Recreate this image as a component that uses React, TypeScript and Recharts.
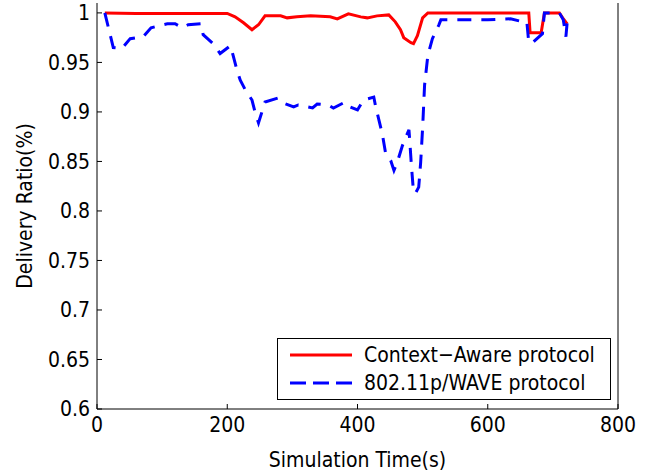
import { LineChart, Line, XAxis, YAxis, Legend } from "recharts";

// Context-Aware protocol (red, solid)
const awareTime = [12, 60, 120, 160, 200, 212, 225, 238, 248, 258, 282, 292, 307, 328, 358, 369, 386, 405, 415, 430, 448, 458, 466, 471, 482, 486, 492, 500, 508, 663, 665, 682, 687, 710, 715, 722];
const awareRatio = [1.0, 0.9995, 0.9995, 0.9995, 0.9995, 0.996, 0.99, 0.983, 0.988, 0.997, 0.997, 0.995, 0.996, 0.997, 0.996, 0.994, 0.999, 0.996, 0.995, 0.997, 0.998, 0.991, 0.983, 0.975, 0.97, 0.969, 0.977, 0.995, 1.0, 1.0, 0.98, 0.98, 1.0, 1.0, 0.995, 0.989];

// 802.11p/WAVE protocol (blue, dashed)
const waveTime = [12, 25, 38, 51, 71, 83, 108, 120, 131, 140, 160, 163, 178, 189, 205, 209, 215, 220, 228, 238, 243, 248, 258, 278, 286, 302, 309, 331, 338, 355, 363, 381, 389, 400, 409, 425, 428, 438, 443, 451, 456, 461, 469, 474, 479, 480, 483, 486, 489, 494, 497, 500, 503, 508, 515, 525, 528, 600, 635, 654, 660, 663, 669, 684, 687, 710, 716, 720, 723];
const waveRatio = [1.0, 0.965, 0.964, 0.974, 0.976, 0.985, 0.989, 0.989, 0.985, 0.988, 0.989, 0.978, 0.969, 0.959, 0.967, 0.957, 0.942, 0.932, 0.922, 0.912, 0.899, 0.889, 0.91, 0.914, 0.909, 0.905, 0.907, 0.904, 0.908, 0.907, 0.904, 0.91, 0.905, 0.902, 0.912, 0.915, 0.905, 0.878, 0.859, 0.851, 0.841, 0.849, 0.866, 0.874, 0.882, 0.873, 0.844, 0.819, 0.818, 0.824, 0.849, 0.884, 0.927, 0.957, 0.974, 0.988, 0.993, 0.993, 0.994, 0.991, 0.991, 0.97, 0.97, 0.979, 1.0, 1.0, 0.993, 0.976, 0.998];

const xTicks = [0, 200, 400, 600, 800];
const yTicks = [0.6, 0.65, 0.7, 0.75, 0.8, 0.85, 0.9, 0.95, 1];

const seriesNames = ["Context\u2212Aware protocol", "802.11p/WAVE protocol"];

const awareData = awareTime.map((t, i) => ({ t, v: awareRatio[i] }));
const waveData = waveTime.map((t, i) => ({ t, v: waveRatio[i] }));

const font = "'DejaVu Sans Condensed', 'DejaVu Sans', sans-serif";
const tickStyle = { fontSize: 21, fill: "#000", fontFamily: font };

function LegendBox() {
  return (
    <div
      style={{
        border: "1px solid #000",
        background: "#fff",
        width: 332,
        height: 60,
        fontFamily: font,
        fontSize: 21,
        color: "#000",
        boxSizing: "content-box",
      }}
    >
      {seriesNames.map((name, i) => (
        <div key={name} style={{ display: "flex", alignItems: "center", height: 28, marginTop: i === 0 ? 2 : 0 }}>
          <svg width={86} height={10} style={{ flex: "none" }}>
            <line
              x1={12}
              x2={74}
              y1={5}
              y2={5}
              stroke={i === 0 ? "#ff0000" : "#0000ff"}
              strokeWidth={3}
              strokeDasharray={i === 0 ? undefined : "16 7"}
            />
          </svg>
          <span style={{ whiteSpace: "nowrap" }}>{name}</span>
        </div>
      ))}
    </div>
  );
}

export default function App() {
  return (
    <div style={{ position: "absolute", left: 0, top: 0, background: "#fff" }}>
      <LineChart width={650} height={471} margin={{ top: 3, right: 0, bottom: 0, left: 0 }}>
        <XAxis
          dataKey="t"
          type="number"
          domain={[0, 800]}
          ticks={xTicks}
          allowDataOverflow
          height={62}
          tickSize={-5}
          tickMargin={13}
          tick={tickStyle}
          stroke="#000"
          tickLine={{ stroke: "#000" }}
          label={{
            value: "Simulation Time(s)",
            position: "insideBottom",
            offset: 4,
            style: { fontSize: 21, fill: "#000", fontFamily: font },
          }}
        />
        <XAxis
          xAxisId="top"
          orientation="top"
          type="number"
          domain={[0, 800]}
          ticks={xTicks}
          height={0}
          tickSize={-5}
          tick={false}
          stroke="#000"
          tickLine={{ stroke: "#000" }}
        />
        <YAxis
          type="number"
          domain={[0.6, 1.01]}
          ticks={yTicks}
          allowDataOverflow
          width={97}
          tickSize={-5}
          tickMargin={12}
          tick={tickStyle}
          tickFormatter={(v: number) => String(+v.toFixed(2))}
          stroke="#000"
          tickLine={{ stroke: "#000" }}
          label={{
            value: "Delivery Ratio(%)",
            angle: -90,
            position: "center",
            dx: -24,
            style: { fontSize: 21, fill: "#000", fontFamily: font, textAnchor: "middle" },
          }}
        />
        <YAxis
          yAxisId="right"
          orientation="right"
          type="number"
          domain={[0.6, 1.01]}
          ticks={yTicks}
          width={32}
          tickSize={-5}
          tick={false}
          stroke="#000"
          tickLine={{ stroke: "#000" }}
        />
        <Line
          data={awareData}
          dataKey="v"
          name={seriesNames[0]}
          type="linear"
          stroke="#ff0000"
          strokeWidth={3}
          dot={false}
          isAnimationActive={false}
        />
        <Line
          data={waveData}
          dataKey="v"
          name={seriesNames[1]}
          type="linear"
          stroke="#0000ff"
          strokeWidth={3}
          strokeDasharray="14 10"
          dot={false}
          isAnimationActive={false}
        />
        <Legend
          content={() => <LegendBox />}
          layout="vertical"
          align="center"
          verticalAlign="middle"
          wrapperStyle={{ position: "absolute", left: 277, top: 338, width: 334, height: 62 }}
        />
      </LineChart>
    </div>
  );
}
